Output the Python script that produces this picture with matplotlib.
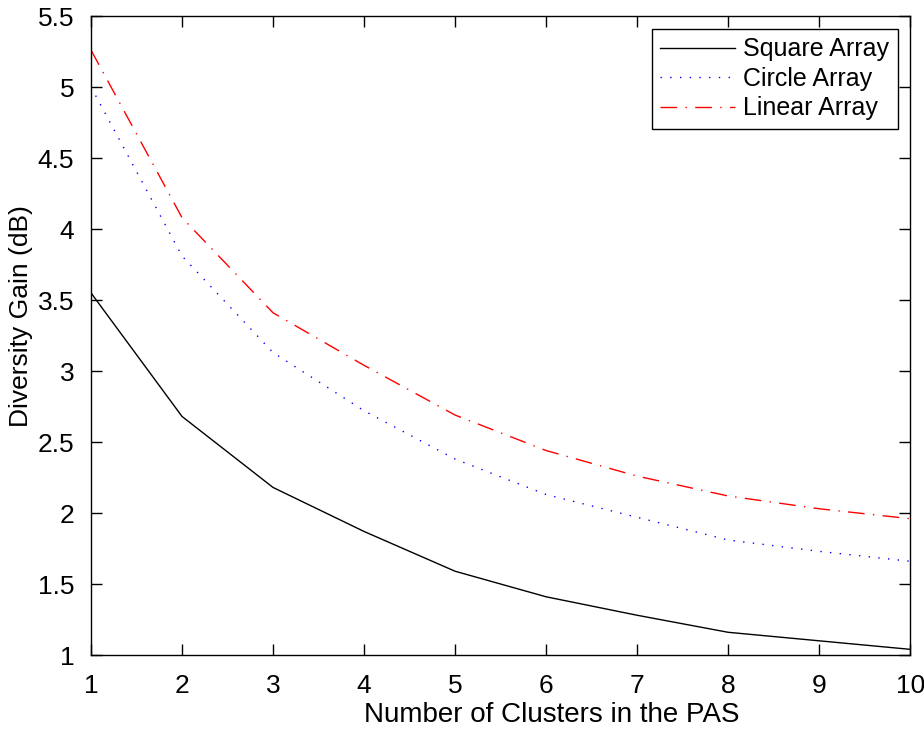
import matplotlib
matplotlib.use("Agg")
import matplotlib.pyplot as plt

plt.rcParams["font.family"] = ["Liberation Sans", "DejaVu Sans"]

clusters = [1, 2, 3, 4, 5, 6, 7, 8, 9, 10]
square = [3.55, 2.68, 2.18, 1.87, 1.59, 1.41, 1.28, 1.16, 1.10, 1.04]
circle = [5.00, 3.81, 3.13, 2.72, 2.38, 2.13, 1.97, 1.81, 1.73, 1.66]
linear = [5.26, 4.08, 3.41, 3.04, 2.69, 2.44, 2.26, 2.12, 2.03, 1.96]
yticks = [1, 1.5, 2, 2.5, 3, 3.5, 4, 4.5, 5, 5.5]

fig = plt.figure(figsize=(9.24, 7.29), dpi=100)
ax = fig.add_axes([0.0985, 0.1015, 0.8865, 0.8765])

ax.plot(clusters, square, color="black", lw=1.0, label="Square Array")
ax.plot(clusters, circle, color="blue", lw=1.0, linestyle=(0, (1, 6)),
        label="Circle Array")
ax.plot(clusters, linear, color="red", lw=1.0, linestyle=(0, (12, 6, 1, 6)),
        label="Linear Array")

ax.set_xlim(1, 10)
ax.set_ylim(1, 5.5)
ax.set_xticks(clusters)
ax.set_yticks(yticks)
ax.set_yticklabels([f"{v:g}" for v in yticks])
ax.tick_params(direction="in", top=True, right=True, length=8, width=1,
               labelsize=19)
ax.tick_params(axis="x", pad=14)
ax.tick_params(axis="y", pad=12)
for s in ax.spines.values():
    s.set_linewidth(1.0)

ax.set_xlabel("Number of Clusters in the PAS", fontsize=20)
ax.set_ylabel("Diversity Gain (dB)", fontsize=19)
ax.xaxis.set_label_coords(0.562, -0.073)
ax.yaxis.set_label_coords(-0.071, 0.53)

leg = ax.legend(loc="upper right", fontsize=18, fancybox=False,
                edgecolor="black", framealpha=1, handlelength=3.0,
                borderaxespad=0.5, borderpad=0.35, labelspacing=0.22,
                handletextpad=0.3)
leg.get_frame().set_linewidth(1.0)

fig.savefig("out.png", dpi=100)
